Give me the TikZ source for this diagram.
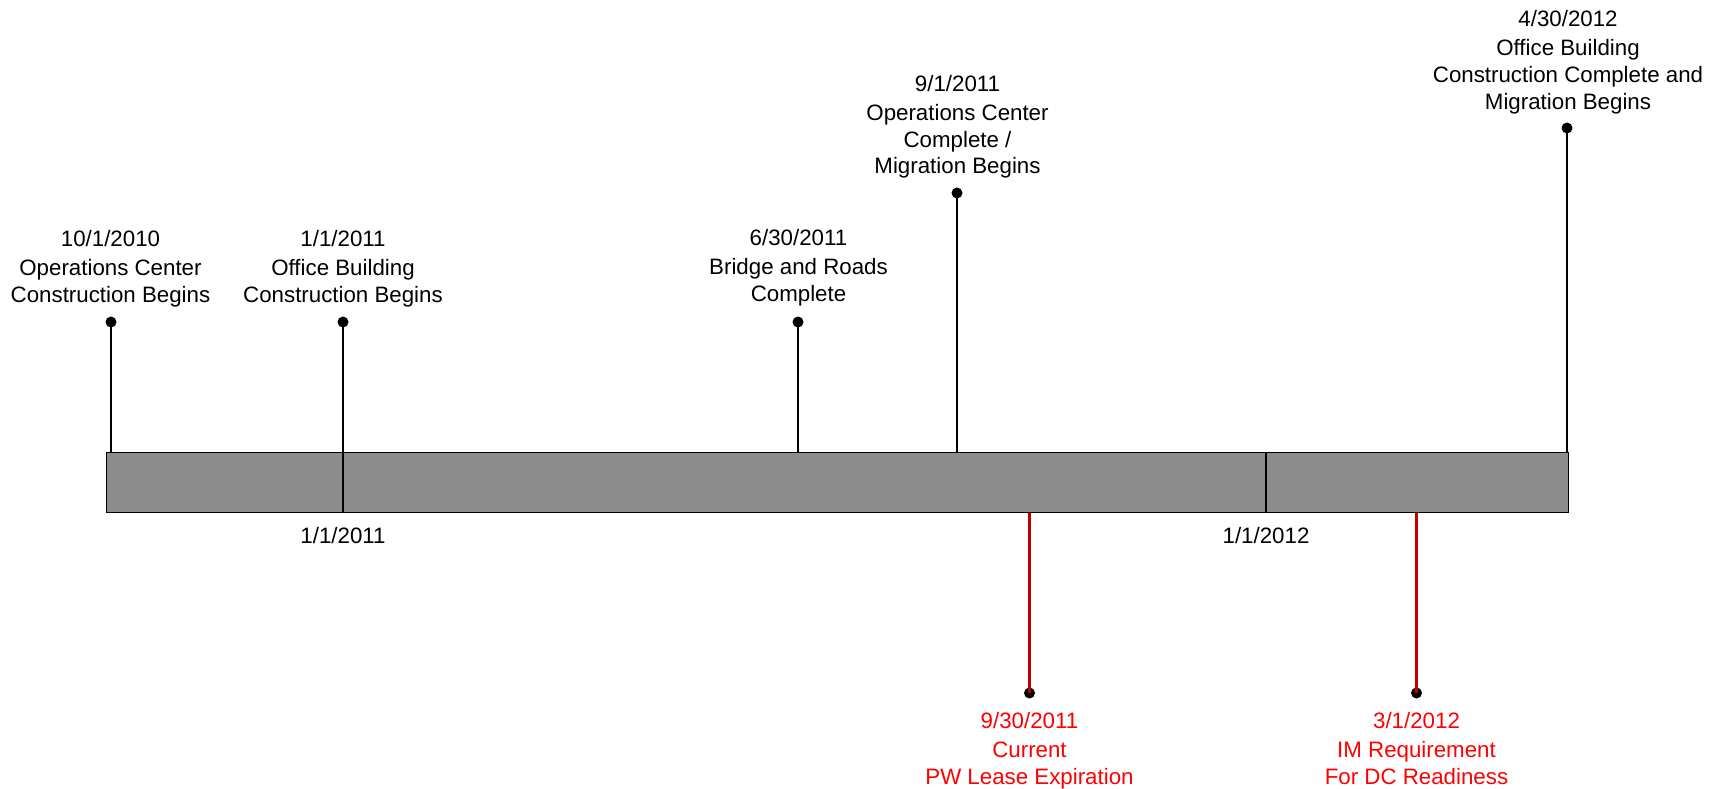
\documentclass[tikz,border=0pt]{standalone}
\usepackage{fontspec}
\setmainfont{Liberation Sans}
\definecolor{barfill}{HTML}{8C8C8C}
\definecolor{redline}{HTML}{C00000}
\definecolor{redtext}{HTML}{FF0000}
\begin{document}
\begin{tikzpicture}[x=1pt,y=-1pt,
  lbl/.style={align=center, font=\fontsize{22.3}{26.6}\selectfont, inner sep=0pt, anchor=north},
  redlbl/.style={lbl, text=redtext},
  datelbl/.style={font=\fontsize{22.3}{26.6}\selectfont, inner sep=0pt, anchor=north},
  stemline/.style={line width=2.6pt},
  redstemline/.style={line width=2.4pt, draw=redline},
  dotnode/.style={circle, fill=black, inner sep=0pt, minimum size=11pt},
  divider/.style={line width=1.3pt},
  barbox/.style={draw=black, fill=barfill, line width=1.3pt, inner sep=0pt, anchor=north west}]
\useasboundingbox (0,0) rectangle (1719,788);
% bar
\node[barbox, minimum width=1462pt, minimum height=60pt] (bar) at (106,452) {};
\coordinate (div1) at (343,452);
\coordinate (div2) at (1266,452);
\draw[divider] (div1) -- (div1 |- bar.south);
\draw[divider] (div2) -- (div2 |- bar.south);
% top dots
\node[dotnode] (d1) at (111,322) {};
\node[dotnode] (d2) at (343,322) {};
\node[dotnode] (d3) at (798,322) {};
\node[dotnode] (d4) at (957,193) {};
\node[dotnode] (d5) at (1567,128) {};
\foreach \d in {d1,d2,d3,d4,d5}{\draw[stemline] (\d.center) -- (\d.center |- bar.north);}
% bottom red dots
\node[dotnode] (r1) at (1029.5,693) {};
\node[dotnode] (r2) at (1416.5,693) {};
\foreach \d in {r1,r2}{\draw[redstemline] (\d.center |- bar.south) -- (\d.center);}
% labels
\node[lbl] (l1) at (110.5,229.7) {10/1/2010\\[3pt]Operations Center\\Construction Begins};
\node[lbl] (l2) at (343,229.7) {1/1/2011\\[3pt]Office Building\\Construction Begins};
\node[lbl] (l3) at (798.5,229) {6/30/2011\\[3pt]Bridge and Roads\\Complete};
\node[lbl] (l4) at (957.5,74.7) {9/1/2011\\[3pt]Operations Center\\Complete /\\Migration Begins};
\node[lbl] (l5) at (1568,10) {4/30/2012\\[3pt]Office Building\\Construction Complete and\\Migration Begins};
\node[redlbl] (l6) at (1029.5,712) {9/30/2011\\[3pt]Current\\PW Lease Expiration};
\node[redlbl] (l7) at (1416.5,712) {3/1/2012\\[3pt]IM Requirement\\For DC Readiness};
\node[datelbl] (t1) at (343,527.5) {1/1/2011};
\node[datelbl] (t2) at (1266,527.5) {1/1/2012};
\end{tikzpicture}
\end{document}
